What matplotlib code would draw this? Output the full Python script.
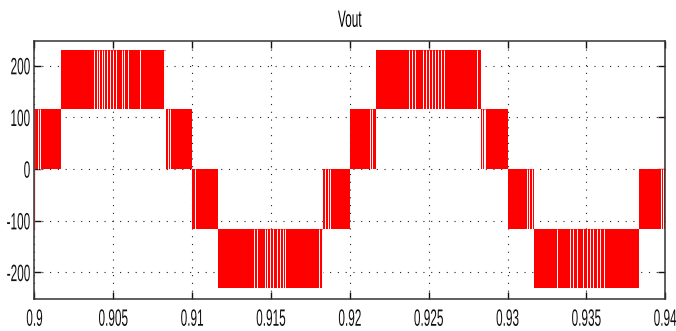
import numpy as np
import matplotlib
matplotlib.use("Agg")
import matplotlib.pyplot as plt
from matplotlib.patheffects import AbstractPathEffect
from matplotlib.transforms import Affine2D

# Band edges (time, s) of the stepped multilevel waveform
edges = [0.9, 0.90167, 0.90833, 0.91, 0.91167, 0.91833, 0.92,
         0.92167, 0.92833, 0.93, 0.93167, 0.93833, 0.94]
# Lower / upper switching levels (V) inside each band
band_low = [0, 116, 0, -116, -230, -116, 0, 116, 0, -116, -230, -116]
band_high = [116, 230, 116, 0, -116, 0, 116, 230, 116, 0, -116, 0]

# Times where the PWM leaves visible white gaps inside a band
gap_times = [
    0.90022, 0.90037,
    0.90378, 0.90397, 0.90410, 0.90429, 0.90442, 0.90461, 0.90480, 0.90499,
    0.90517, 0.90556, 0.90568, 0.90594, 0.90670, 0.90819, 0.90828,
    0.90848, 0.90860,
    0.91019,
    0.91394, 0.91413, 0.91464, 0.91476, 0.91495, 0.91514, 0.91540, 0.91559,
    0.91578, 0.91591, 0.91806, 0.91825,
    0.91844, 0.91861, 0.91876,
    0.92130, 0.92143,
    0.92378, 0.92397, 0.92416, 0.92467, 0.92486, 0.92505, 0.92524, 0.92543,
    0.92562, 0.92581, 0.92600, 0.92809,
    0.92839, 0.92849, 0.92860,
    0.93121, 0.93138, 0.93156,
    0.93317, 0.93394, 0.93416, 0.93438, 0.93479, 0.93502, 0.93521, 0.93540,
    0.93565, 0.93587, 0.93609,
    0.93971, 0.93984,
]

# Single transition edges at the window boundaries
edge_times = [0.9, 0.93996]
edge_low = [-116, 0]
edge_high = [116, 116]

x_ticks = [0.9, 0.905, 0.91, 0.915, 0.92, 0.925, 0.93, 0.935, 0.94]
x_labels = ['0.9', '0.905', '0.91', '0.915', '0.92', '0.925', '0.93', '0.935', '0.94']
y_ticks = [-200, -100, 0, 100, 200]
y_labels = ['-200', '-100', '0', '100', '200']


class VStretch(AbstractPathEffect):
    """Stretch glyphs vertically about a given height (font units, em=100)."""
    def __init__(self, sy, cy):
        super().__init__()
        self.sy = sy
        self.cy = cy

    def draw_path(self, renderer, gc, tpath, affine, rgbFace=None):
        t = Affine2D().translate(0, -self.cy).scale(1, self.sy).translate(0, self.cy)
        renderer.draw_path(gc, tpath, t + affine, rgbFace)


plt.rcParams['font.family'] = ['Liberation Sans', 'DejaVu Sans']

fig = plt.figure(figsize=(6.76, 3.31), dpi=100)
ax = fig.add_axes([0.051, 0.096, 0.933, 0.781])

edges_a = np.array(edges)
low = np.array(band_low)
high = np.array(band_high)
ax.bar(edges_a[:-1], high - low, width=np.diff(edges_a), bottom=low,
       align='edge', color='#ff0000', linewidth=0, zorder=2)

for t in gap_times:
    i = np.searchsorted(edges_a, t) - 1
    ax.vlines(t, band_low[i], band_high[i], colors='white', linewidth=0.7, zorder=3)

ax.vlines(edge_times[0], edge_low[0], edge_high[0], colors='#ff7070', linewidth=1.0, zorder=3)
ax.vlines(edge_times[1], edge_low[1], edge_high[1], colors='#ff0000', linewidth=1.0, zorder=3)

ax.set_xlim(0.9, 0.94)
ax.set_ylim(-252, 248)
ax.set_xticks(x_ticks)
ax.set_xticklabels(x_labels)
ax.set_yticks(y_ticks)
ax.set_yticklabels(y_labels)

ax.grid(True, color='#222222', linestyle=(0, (1, 6)), linewidth=0.8, zorder=1)
ax.set_axisbelow(True)
ax.tick_params(direction='in', top=True, right=True, length=5, width=1.0,
               labelsize=8.5, colors='#111111')
ax.tick_params(axis='x', pad=6.5)
ax.tick_params(axis='y', pad=3)
for tk in ax.xaxis.get_major_ticks():
    tk.label1.set_path_effects([VStretch(2.0, 72)])
for tk in ax.yaxis.get_major_ticks():
    tk.label1.set_path_effects([VStretch(2.0, 36)])
for s in ax.spines.values():
    s.set_linewidth(1.1)
    s.set_color('#333333')
    s.set_zorder(4)

title = ax.set_title('Vout', fontsize=8.5, pad=10)
title.set_path_effects([VStretch(2.0, 0)])

fig.savefig('out.png', dpi=100)
